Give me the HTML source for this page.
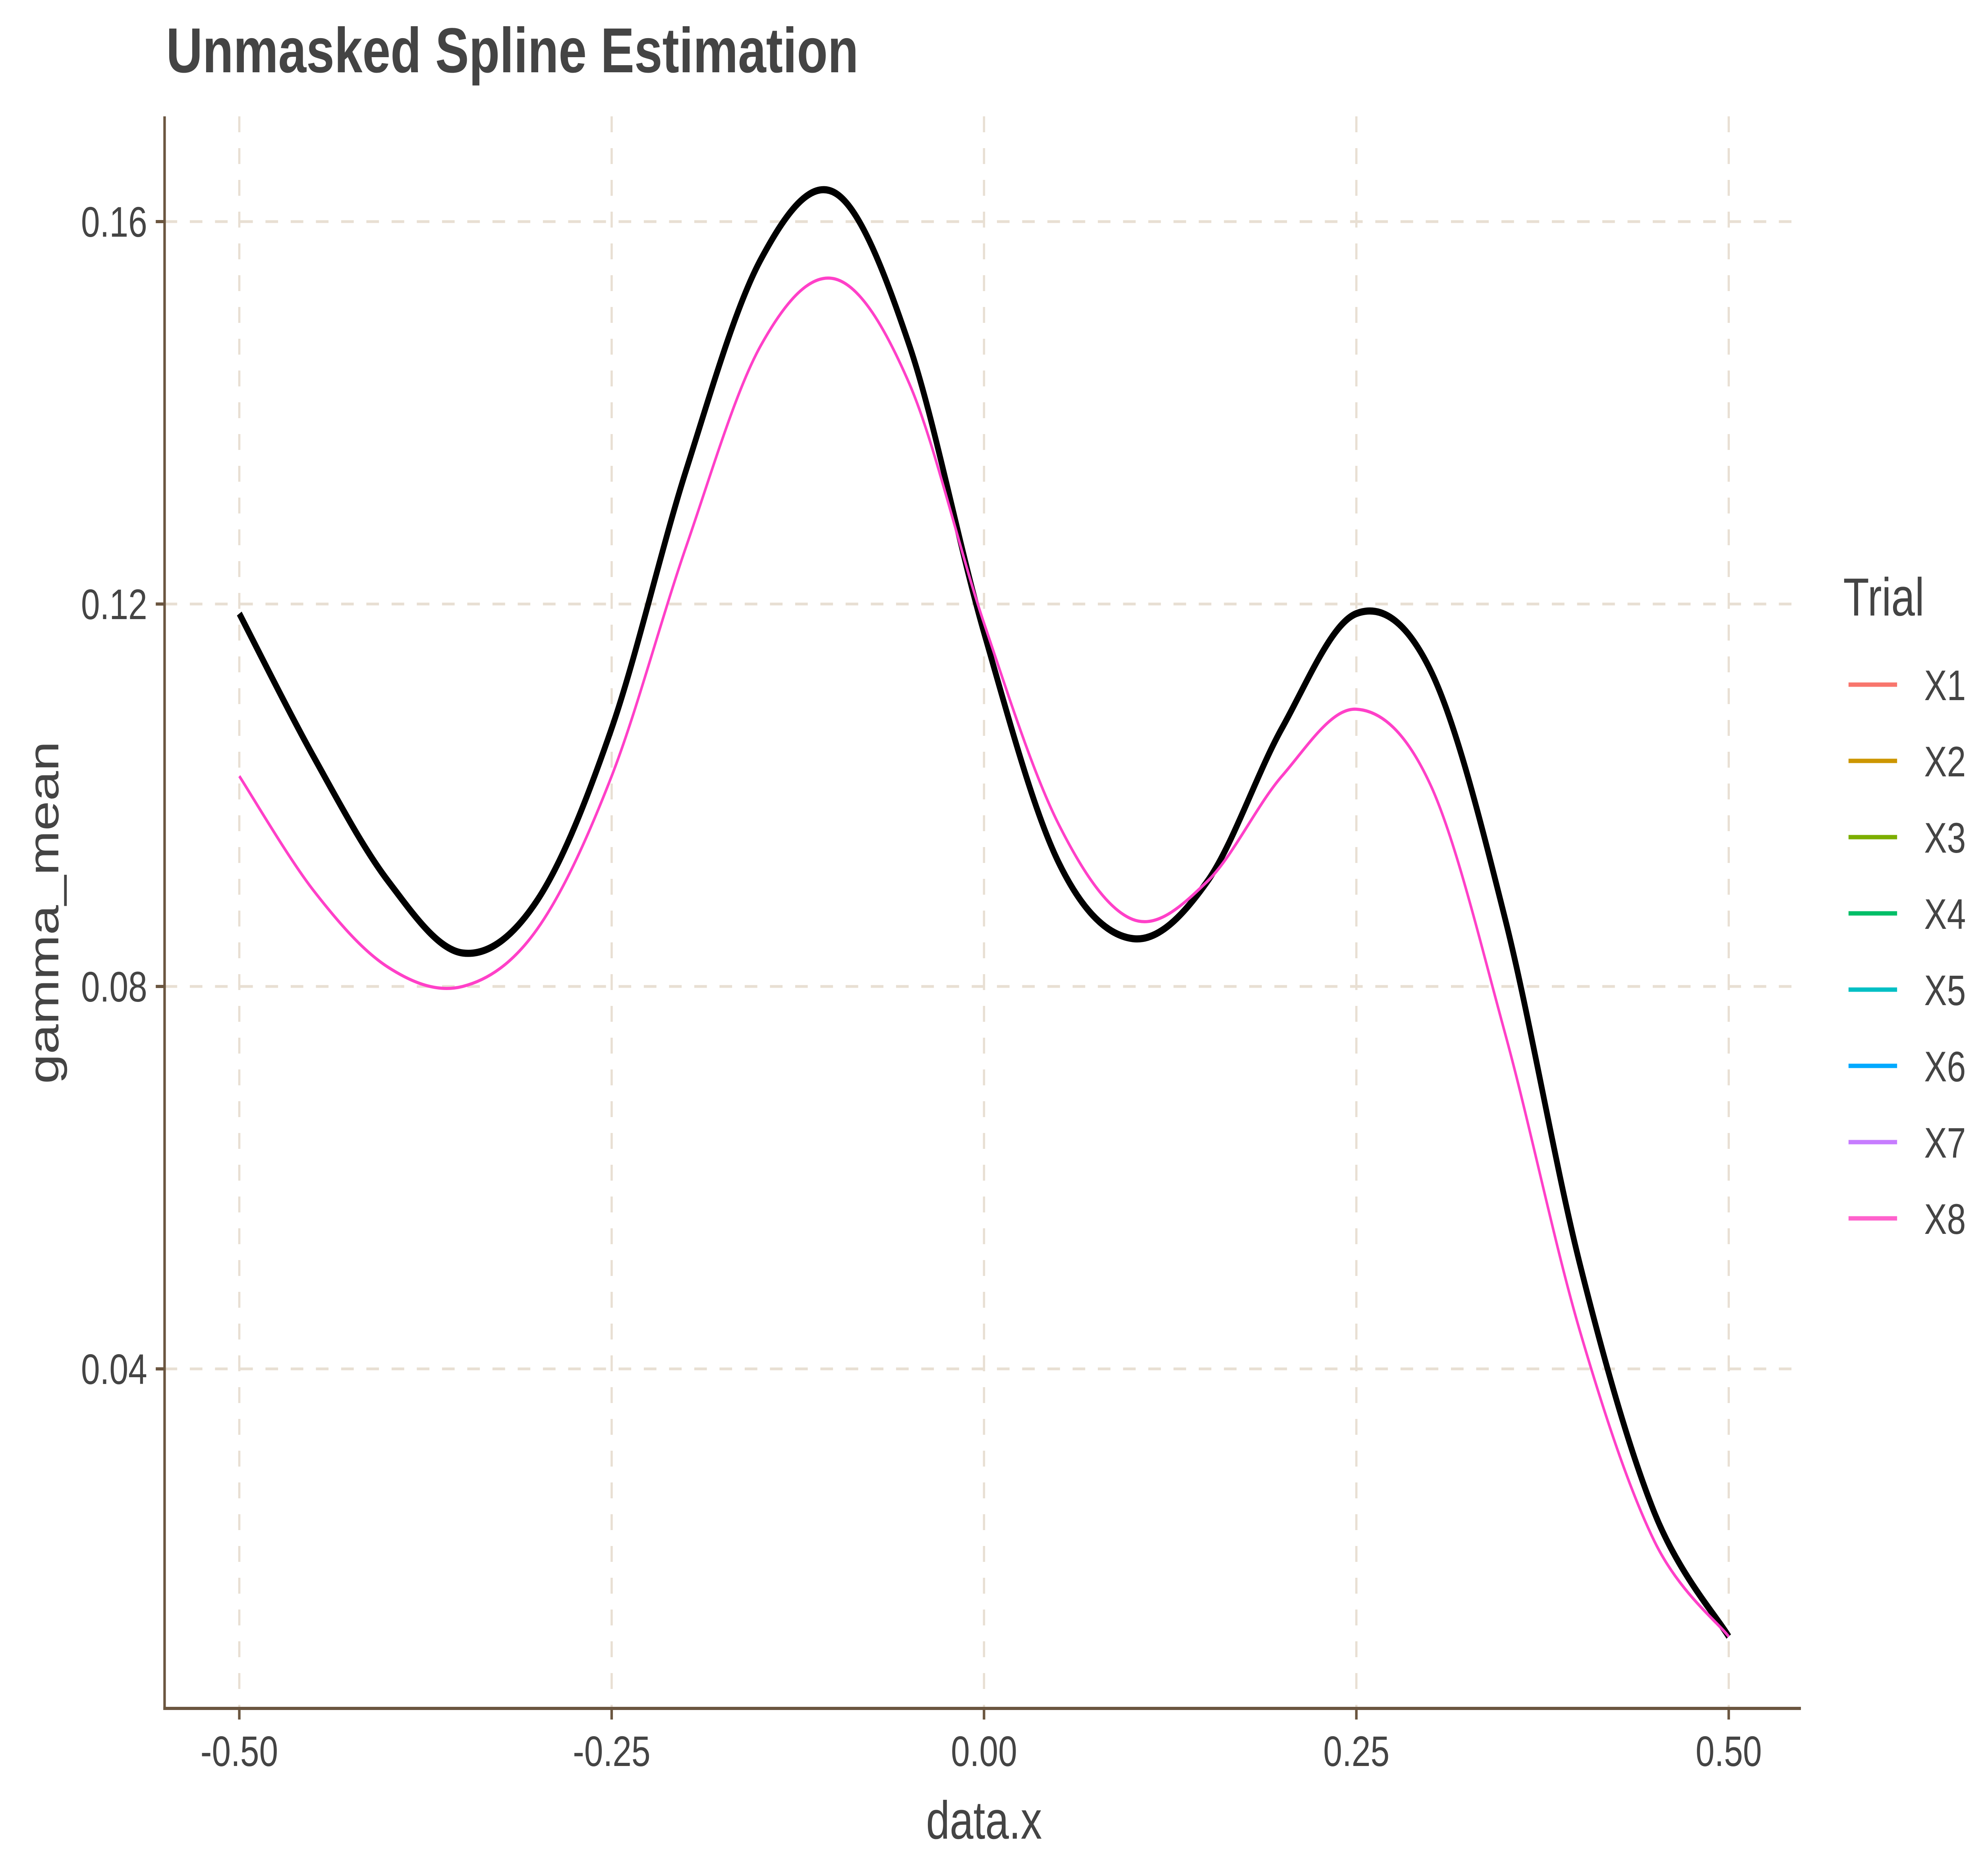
<!DOCTYPE html>
<html><head><meta charset="utf-8"><style>
html,body{margin:0;padding:0;background:#fff;overflow:hidden;width:100%;height:100%;}
svg{display:block;position:fixed;left:0;top:0;width:100vw;height:100vh;font-family:"Liberation Sans",Arial,sans-serif;}
</style></head><body>
<svg id="chart" xmlns="http://www.w3.org/2000/svg" viewBox="0 0 6299 4724" preserveAspectRatio="none">
<rect width="6299" height="4724" fill="#fff"/>
<text x="527" y="182" font-size="160" font-weight="bold" fill="#444">Unmasked Spline Estimation</text>
<g id="grid"></g>
<g id="axes"></g>
<g id="series"></g>
<text x="3121" y="4630" font-size="135" fill="#444" text-anchor="middle">data.x</text>
<text transform="translate(185,2298) rotate(-90)" font-size="135" fill="#444" text-anchor="middle">gamma_mean</text>
<g id="legend">
<text x="5846" y="1550" font-size="135" fill="#444">Trial</text>
</g>
</svg>
<script>
const xTicks = [-0.5, -0.25, 0, 0.25, 0.5];
const xTickLabels = ["-0.50", "-0.25", "0.00", "0.25", "0.50"];
const yTicks = [0.04, 0.08, 0.12, 0.16];
const yTickLabels = ["0.04", "0.08", "0.12", "0.16"];
const xs = [-0.5,-0.45,-0.4,-0.35,-0.3,-0.25,-0.2,-0.15,-0.1,-0.05,0,0.05,0.1,0.15,0.2,0.25,0.3,0.35,0.4,0.45,0.5];
const blackValues = [0.119,0.104,0.091,0.0835,0.089,0.107,0.134,0.156,0.163,0.147,0.117,0.093,0.085,0.091,0.107,0.119,0.113,0.087,0.051,0.025,0.012];
const pinkValues = [0.102,0.090,0.082,0.080,0.086,0.102,0.126,0.147,0.154,0.143,0.118,0.097,0.087,0.091,0.102,0.109,0.101,0.075,0.044,0.022,0.012];
const trialNames = ["X1","X2","X3","X4","X5","X6","X7","X8"];
const trialColors = ["#F8766D","#CD9600","#7CAE00","#00BE67","#00BFC4","#00A9FF","#C77CFF","#FF61CC"];

const NS = "http://www.w3.org/2000/svg";
const L = 522, R = 5712, T = 293, B = 4302;
function sx(v){ return 759 + (v + 0.5) * 4724; }
function sy(v){ return 558 + (0.16 - v) / 0.12 * 2889; }
function mk(tag, attrs, parent){ const e = document.createElementNS(NS, tag); for (const k in attrs) e.setAttribute(k, attrs[k]); parent.appendChild(e); return e; }

const grid = document.getElementById('grid');
xTicks.forEach((t,i)=>{
  const l = mk('line',{x1:sx(t),x2:sx(t),y1:T,y2:B,stroke:'#e8dfd3','stroke-width':7,'stroke-dasharray':'40 40'},grid);
  
  
});
yTicks.forEach((t,i)=>{
  const l = mk('line',{x1:L,x2:R,y1:sy(t),y2:sy(t),stroke:'#e8dfd3','stroke-width':7,'stroke-dasharray':'40 40'},grid);
  
  
});

const axes = document.getElementById('axes');
let a = mk('line',{x1:L,x2:L,y1:T,y2:B+4,stroke:'#6b5640','stroke-width':8},axes);
 
a = mk('line',{x1:L-4,x2:R,y1:B,y2:B,stroke:'#6b5640','stroke-width':8},axes);
 
xTicks.forEach((t,i)=>{
  const tk = mk('line',{x1:sx(t),x2:sx(t),y1:B,y2:B+28,stroke:'#6b5640','stroke-width':8},axes);
   
  const tx = mk('text',{x:sx(t),y:B+145,'font-size':108,fill:'#444','text-anchor':'middle'},axes);
  tx.textContent = xTickLabels[i];
   
});
yTicks.forEach((t,i)=>{
  const tk = mk('line',{x1:L-28,x2:L,y1:sy(t),y2:sy(t),stroke:'#6b5640','stroke-width':8},axes);
   
  const tx = mk('text',{x:L-55,y:sy(t)+38,'font-size':108,fill:'#444','text-anchor':'end'},axes);
  tx.textContent = yTickLabels[i];
   
});

function smoothPath(xv, yv){
  const p = xv.map((x,i)=>[sx(x), sy(yv[i])]);
  let d = `M${p[0][0]},${p[0][1]}`;
  for (let i=0;i<p.length-1;i++){
    const p0 = p[Math.max(0,i-1)], p1 = p[i], p2 = p[i+1], p3 = p[Math.min(p.length-1,i+2)];
    const c1 = [p1[0]+(p2[0]-p0[0])/6, p1[1]+(p2[1]-p0[1])/6];
    const c2 = [p2[0]-(p3[0]-p1[0])/6, p2[1]-(p3[1]-p1[1])/6];
    d += ` C${c1[0]},${c1[1]} ${c2[0]},${c2[1]} ${p2[0]},${p2[1]}`;
  }
  return d;
}
const series = document.getElementById('series');
const bl = mk('path',{d:smoothPath(xs,blackValues),fill:'none',stroke:'#000','stroke-width':18,'stroke-linejoin':'round'},series);
 
const pk = mk('path',{d:smoothPath(xs,pinkValues),fill:'none',stroke:'#FF40C8','stroke-width':8,'stroke-linejoin':'round'},series);
 

const legend = document.getElementById('legend');
trialNames.forEach((n,i)=>{
  const y = 1724 + i*192;
  const ln = mk('line',{x1:5863,x2:6017,y1:y,y2:y,stroke:trialColors[i],'stroke-width':11},legend);
   
  const tx = mk('text',{x:6103,y:y+39,'font-size':108,fill:'#444'},legend);
  tx.textContent = n;
   
});
</script>
</body></html>
